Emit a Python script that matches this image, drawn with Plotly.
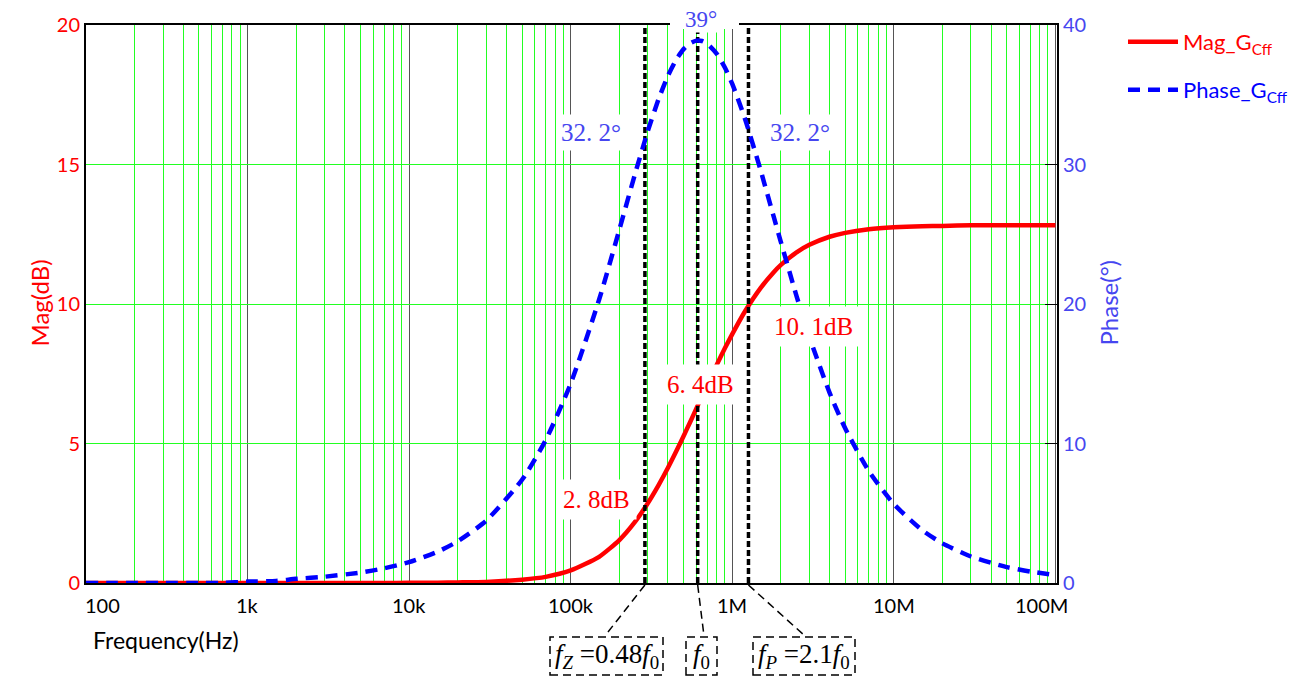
import plotly.graph_objects as go
import math

# ---------------- data ----------------
freq_hz = [100, 150, 200, 300, 500, 700, 1e3, 1.5e3, 2e3, 3e3, 5e3, 7e3, 1e4, 1.5e4, 2e4, 3e4,
           5e4, 7e4, 1e5, 1.5e5, 2e5, 2.5e5, 3e5, 3.5e5, 4e5, 4.5e5, 5e5, 5.5e5, 6e5, 6.5e5,
           7e5, 8e5, 9e5, 1e6, 1.2e6, 1.5e6, 1.8e6, 2e6, 2.5e6, 3e6, 4e6, 5e6, 7e6, 1e7,
           1.5e7, 2e7, 3e7, 5e7, 7e7, 1e8]
mag_db = [0.0, 0.0, 0.0, 0.0, 0.0, 0.0, 0.0, 0.0, 0.0, 0.0, 0.0, 0.0, 0.005, 0.01, 0.02, 0.04,
          0.12, 0.22, 0.45, 0.94, 1.54, 2.19, 2.86, 3.51, 4.13, 4.72, 5.27, 5.78, 6.26, 6.69,
          7.10, 7.81, 8.41, 8.92, 9.74, 10.58, 11.13, 11.40, 11.85, 12.12, 12.41, 12.55, 12.68, 12.75,
          12.79, 12.80, 12.82, 12.82, 12.82, 12.82]
phase_deg = [0.0, 0.0, 0.0, 0.0, 0.0, 0.0, 0.1, 0.15, 0.3, 0.45, 0.75, 1.05, 1.5, 2.24, 2.99, 4.47,
             7.40, 10.24, 14.29, 20.32, 25.33, 29.31, 32.39, 34.69, 36.36, 37.52, 38.27, 38.69, 38.88, 38.85,
             38.66, 37.95, 36.95, 35.78, 33.26, 29.56, 26.31, 24.44, 20.57, 17.65, 13.65, 11.09, 8.03, 5.66,
             3.78, 2.84, 1.90, 1.14, 0.82, 0.57]

marker_freq = [2.88e5, 6.11e5, 1.26e6]          # fz, f0, fp
marker_mag_text = ["2. 8dB", "6. 4dB", "10. 1dB"]
marker_mag_val = [2.8, 6.4, 10.1]
marker_phase_text = ["32. 2°", "39°", "32. 2°"]
marker_phase_val = [32.2, 39.0, 32.2]
marker_box_text = ["<i>f</i><sub><i>Z</i></sub> =0.48<i>f</i><sub>0</sub>",
                   "<i>f</i><sub>0</sub>",
                   "<i>f</i><sub><i>P</i></sub> =2.1<i>f</i><sub>0</sub>"]

x_tickvals = [1e2, 1e3, 1e4, 1e5, 1e6, 1e7, 1e8]
x_ticktext = ["100", "1k", "10k", "100k", "1M", "10M", "100M"]
x_minor_vals = [m * 10 ** d for d in range(2, 8) for m in range(2, 10)]

# ---------------- layout helpers (screen pixels of the reference) ----------------
OFF = 8                      # page body margin
W, H = 1310 - OFF, 677 - OFF
L, R, T, B = 86, 1057, 25, 583
XMIN, XMAX = 2.0, 8.01


def px_x(px):
    return (px - L) / (R - L)


def px_y(py):
    return (B - py) / (B - T)


def f_paper(f):
    return (math.log10(f) - XMIN) / (XMAX - XMIN)


RED = "#ff0000"
BLUE = "#0000ff"
LBLUE = "#4646f0"
GREEN = "#22ff22"
SERIF = "Liberation Serif"
SANS = "Lato"

fig = go.Figure()

fig.add_trace(go.Scatter(x=freq_hz, y=mag_db, mode="lines", name="Mag_G<sub>Cff</sub>",
                         line=dict(color=RED, width=4.5, shape="spline", smoothing=0.6),
                         legend="legend", yaxis="y"))
fig.add_trace(go.Scatter(x=freq_hz, y=phase_deg, mode="lines", name="Phase_G<sub>Cff</sub>",
                         line=dict(color=BLUE, width=4.5, dash="12px,8px", shape="spline", smoothing=0.6),
                         legend="legend2", yaxis="y2"))

for f in marker_freq:
    fig.add_trace(go.Scatter(x=[f, f], y=[0, 20], mode="lines", showlegend=False,
                             line=dict(color="black", width=3.5, dash="6px,3px"), yaxis="y",
                             hoverinfo="skip"))

annotations = []
shapes = []

# x tick labels (edge labels pulled inward as in the reference)
xlab_shift = [16, 0, 0, 0, 0, 0, -14]
for v, t, dx in zip(x_tickvals, x_ticktext, xlab_shift):
    annotations.append(dict(x=math.log10(v), y=px_y(605), xref="x", yref="paper", text=t,
                            showarrow=False, xshift=dx, yanchor="middle",
                            font=dict(family=SANS, size=20, color="black")))

# magnitude labels
mag_shift = [(-48, 5), (3, 20), (65, -25)]
for f, v, t, (dx, dy) in zip(marker_freq, marker_mag_val, marker_mag_text, mag_shift):
    annotations.append(dict(x=math.log10(f), y=v, xref="x", yref="y", text=t, showarrow=False,
                            xshift=dx, yshift=dy, bgcolor="white", borderpad=6,
                            font=dict(family=SERIF, size=25, color=RED)))
# phase labels
ph_shift = [(-54, 1), (3, 19), (52, 1)]
ph_pad = [4, 0, 4]
ph_size = [25, 23, 25]
for f, v, t, (dx, dy), pd, sz in zip(marker_freq, marker_phase_val, marker_phase_text,
                                     ph_shift, ph_pad, ph_size):
    annotations.append(dict(x=math.log10(f), y=v, xref="x", yref="y2", text=t, showarrow=False,
                            xshift=dx, yshift=dy, bgcolor="white", borderpad=pd,
                            font=dict(family=SERIF, size=sz, color=LBLUE)))
# gap in the top frame behind the peak label
shapes.append(dict(type="rect", xref="paper", yref="paper", layer="above",
                   x0=px_x(670), x1=px_x(739), y0=px_y(29), y1=px_y(20),
                   fillcolor="white", line=dict(width=0)))

# bottom boxes (pixel layout from the reference)
box_px = [(550, 663), (686, 717), (753, 855)]
leader_end_px = [(608, 632), (704, 636), (805, 636)]
box_top, box_bot = 637, 675
for f, (bx0, bx1), (ex, ey), t in zip(marker_freq, box_px, leader_end_px, marker_box_text):
    shapes.append(dict(type="rect", xref="paper", yref="paper",
                       x0=px_x(bx0), x1=px_x(bx1), y0=px_y(box_bot), y1=px_y(box_top),
                       line=dict(color="black", width=1.5, dash="8px,5px")))
    shapes.append(dict(type="line", xref="paper", yref="paper",
                       x0=f_paper(f), y0=px_y(585), x1=px_x(ex), y1=px_y(ey),
                       line=dict(color="black", width=1.5, dash="8px,5px")))
    annotations.append(dict(x=px_x((bx0 + bx1) / 2), y=px_y((box_top + box_bot) / 2),
                            xref="paper", yref="paper", text=t, showarrow=False,
                            xanchor="center", yanchor="middle",
                            font=dict(family=SERIF, size=27, color="black")))

# axis titles
annotations.append(dict(x=px_x(22), y=px_y(303), xref="paper", yref="paper", text="Mag(dB)",
                        textangle=-90, showarrow=False, font=dict(family=SANS, size=24, color=RED)))
annotations.append(dict(x=px_x(1124), y=px_y(303), xref="paper", yref="paper", text="Phase(°)",
                        textangle=-90, showarrow=False, font=dict(family=SANS, size=24, color=LBLUE)))
annotations.append(dict(x=px_x(91), y=px_y(656), xref="paper", yref="paper", text="Frequency(Hz)",
                        xanchor="left", showarrow=False, font=dict(family=SANS, size=23, color="black")))

fig.update_layout(
    width=W, height=H,
    margin=dict(l=L - OFF, r=1310 - R, t=T - OFF, b=677 - B, pad=0, autoexpand=False),
    paper_bgcolor="white", plot_bgcolor="white",
    showlegend=True,
    xaxis=dict(type="log", range=[XMIN, XMAX], tickvals=x_tickvals, showticklabels=False,
               showgrid=True, gridcolor="#555555", gridwidth=1,
               minor=dict(tickmode="array", tickvals=x_minor_vals, showgrid=True,
                          gridcolor=GREEN, gridwidth=1, ticks=""),
               showline=True, linecolor="black", linewidth=2, mirror=True,
               ticks="", zeroline=False),
    yaxis=dict(range=[0, 20], dtick=5, showgrid=True, gridcolor=GREEN, gridwidth=1,
               showline=True, linecolor="black", linewidth=2, ticks="", zeroline=False,
               tickfont=dict(family=SANS, size=20, color=RED)),
    yaxis2=dict(range=[0, 40], dtick=10, overlaying="y", side="right", showgrid=False,
                showline=True, linecolor="black", linewidth=2, ticks="inside", ticklen=12,
                tickcolor="black", zeroline=False,
                tickfont=dict(family=SANS, size=20, color=LBLUE)),
    legend=dict(x=px_x(1123), y=px_y(42), xanchor="left", yanchor="middle",
                font=dict(family=SANS, size=22, color=RED), itemwidth=50,
                bgcolor="rgba(0,0,0,0)"),
    legend2=dict(x=px_x(1123), y=px_y(90), xanchor="left", yanchor="middle",
                 font=dict(family=SANS, size=22, color=BLUE), itemwidth=50,
                 bgcolor="rgba(0,0,0,0)"),
    annotations=annotations,
    shapes=shapes,
)

fig.write_html("out.html")
